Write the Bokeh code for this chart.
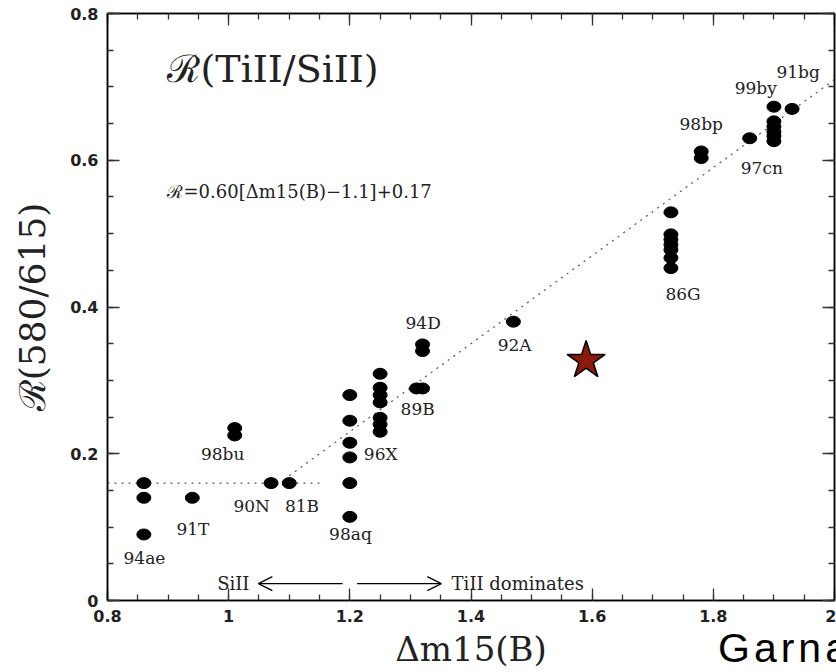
from bokeh.plotting import figure
from bokeh.layouts import column
from bokeh.models import (LinearAxis, Label, Arrow, OpenHead, Range1d, Div,
                          SingleIntervalTicker, CustomJSTickFormatter, ColumnDataSource)
from bokeh.core.properties import value
from bokeh.embed import file_html
from bokeh.resources import INLINE

# ---- data ----
dm15 = [0.86, 0.86, 0.86,
        0.94,
        1.01, 1.01,
        1.07,
        1.10,
        1.20, 1.20, 1.20, 1.20, 1.20, 1.20,
        1.25, 1.25, 1.25, 1.25, 1.25, 1.25, 1.25,
        1.31, 1.32,
        1.32, 1.32,
        1.47,
        1.73, 1.73, 1.73, 1.73, 1.73, 1.73, 1.73,
        1.78, 1.78,
        1.86,
        1.90, 1.90, 1.90, 1.90, 1.90, 1.90,
        1.93]
ratio = [0.160, 0.140, 0.090,
         0.140,
         0.235, 0.225,
         0.160,
         0.160,
         0.280, 0.245, 0.215, 0.195, 0.160, 0.114,
         0.309, 0.290, 0.280, 0.270, 0.249, 0.240, 0.230,
         0.289, 0.289,
         0.349, 0.340,
         0.380,
         0.529, 0.499, 0.492, 0.485, 0.478, 0.467, 0.453,
         0.612, 0.603,
         0.630,
         0.673, 0.653, 0.646, 0.639, 0.633, 0.626,
         0.670]

sn_names = ["94ae", "91T", "98bu", "90N", "81B", "98aq", "96X", "89B",
            "94D", "92A", "86G", "98bp", "97cn", "99by", "91bg"]
name_x = [0.861, 0.941, 0.990, 1.038, 1.121, 1.201, 1.251, 1.312,
          1.321, 1.472, 1.750, 1.780, 1.880, 1.870, 1.940]
name_y = [0.0585, 0.098, 0.199, 0.129, 0.129, 0.091, 0.199, 0.261,
          0.378, 0.348, 0.418, 0.649, 0.589, 0.699, 0.720]

star_x = [1.59]
star_y = [0.327]

fit_slope, fit_x0, fit_c = 0.60, 1.1, 0.17
fit_x = [1.1, 2.0]
fit_y = [fit_slope * (x - fit_x0) + fit_c for x in fit_x]
plateau_x = [0.8, 1.15]
plateau_y = [0.16, 0.16]

credit_text = "Garnavich"

# ---- figure ----
fig = figure(width=836, height=672, x_range=Range1d(0.8, 2.0), y_range=Range1d(0.0, 0.8),
             output_backend="svg", toolbar_location=None,
             min_border_left=107, min_border_right=2, min_border_top=13, min_border_bottom=72)
fig.xgrid.visible = False
fig.ygrid.visible = False
fig.outline_line_color = "black"
fig.outline_line_width = 1.5
fig.background_fill_color = "white"
fig.border_fill_color = "white"

tick_font = "DejaVu Sans"
serif = "DejaVu Serif"

num_fmt = CustomJSTickFormatter(code="return String(Number(tick.toFixed(3)));")
blank_fmt = CustomJSTickFormatter(code="return '';")


def style_axis(ax, labels=True):
    ax.ticker = SingleIntervalTicker(interval=0.2, num_minor_ticks=4)
    ax.major_tick_in = 12
    ax.major_tick_out = 0
    ax.minor_tick_in = 6
    ax.minor_tick_out = 0
    ax.axis_line_color = "black"
    ax.axis_line_width = 1.5
    ax.major_tick_line_color = "#333333"
    ax.major_tick_line_width = 1.3
    ax.minor_tick_line_color = "#333333"
    ax.minor_tick_line_width = 1.3
    if labels:
        ax.formatter = num_fmt
        ax.major_label_text_font = tick_font
        ax.major_label_text_font_size = "16px"
        ax.major_label_text_font_style = "bold"
        ax.major_label_text_color = "#222222"
        ax.major_label_standoff = 9
    else:
        ax.formatter = blank_fmt
        ax.major_label_standoff = 0


style_axis(fig.xaxis[0])
style_axis(fig.yaxis[0])
fig.xaxis[0].axis_label = "Δm15(B)"
fig.yaxis[0].axis_label = "ℛ(580/615)"
for ax in (fig.xaxis[0], fig.yaxis[0]):
    ax.axis_label_text_font = serif
    ax.axis_label_text_font_style = "normal"
    ax.axis_label_text_color = "#222222"
fig.xaxis[0].axis_label_text_font_size = "34px"
fig.xaxis[0].axis_label_standoff = 4
fig.yaxis[0].axis_label_text_font_size = "36px"
fig.yaxis[0].axis_label_standoff = 14

top_ax = LinearAxis()
style_axis(top_ax, labels=False)
fig.add_layout(top_ax, "above")
right_ax = LinearAxis()
style_axis(right_ax, labels=False)
fig.add_layout(right_ax, "right")

# ---- lines ----
fig.line(plateau_x, plateau_y, line_color="#555555", line_width=1.2, line_dash="2 5")
fig.line(fit_x, fit_y, line_color="#555555", line_width=1.2, line_dash="2 5")

# ---- points ----
src = ColumnDataSource(dict(x=dm15, y=ratio))
fig.ellipse(x="x", y="y", width=14, height=11, width_units="screen", height_units="screen",
            source=src, fill_color="black", line_color="black")

fig.scatter(x=star_x, y=star_y, marker="star", size=40, fill_color="#8b1a0a",
            line_color="black", line_width=1.5)

# ---- SN names ----
fig.text(x=name_x, y=name_y, text=sn_names, text_font=value(serif), text_font_size="17px",
         text_align="center", text_baseline="middle", text_color="#222222")

# ---- annotations ----
fig.add_layout(Label(x=0.899, y=0.724, text="ℛ(TiII/SiII)", text_font=serif,
                     text_font_size="38px", text_baseline="middle", text_color="#222222"))
fig.add_layout(Label(x=0.899, y=0.558, text="ℛ=0.60[Δm15(B)−1.1]+0.17", text_font=serif,
                     text_font_size="18px", text_baseline="middle", text_color="#222222"))
fig.add_layout(Label(x=0.981, y=0.023, text="SiII", text_font=serif,
                     text_font_size="18px", text_baseline="middle", text_color="#222222"))
fig.add_layout(Label(x=1.368, y=0.023, text="TiII dominates", text_font=serif,
                     text_font_size="18px", text_baseline="middle", text_color="#222222"))

arrow_left = [1.188, 1.049]
arrow_right = [1.212, 1.351]
arrow_y = 0.023
fig.add_layout(Arrow(end=OpenHead(size=14, line_width=1.2), x_start=arrow_left[0], y_start=arrow_y,
                     x_end=arrow_left[1], y_end=arrow_y, line_width=1.2))
fig.add_layout(Arrow(end=OpenHead(size=14, line_width=1.2), x_start=arrow_right[0], y_start=arrow_y,
                     x_end=arrow_right[1], y_end=arrow_y, line_width=1.2))

# credit text overlapping the bottom-right corner of the figure (cut at the window edge)
credit = Div(text=credit_text, width=118, height=47, margin=(-47, 0, 0, 718),
             styles={"position": "relative", "z-index": "10", "overflow": "hidden",
                     "white-space": "nowrap", "font-family": "Liberation Sans",
                     "font-size": "41px", "line-height": "47px", "color": "black",
                     "letter-spacing": "4px"})

p = column(fig, credit, spacing=0)

open("out.html", "w").write(file_html(p, INLINE))
